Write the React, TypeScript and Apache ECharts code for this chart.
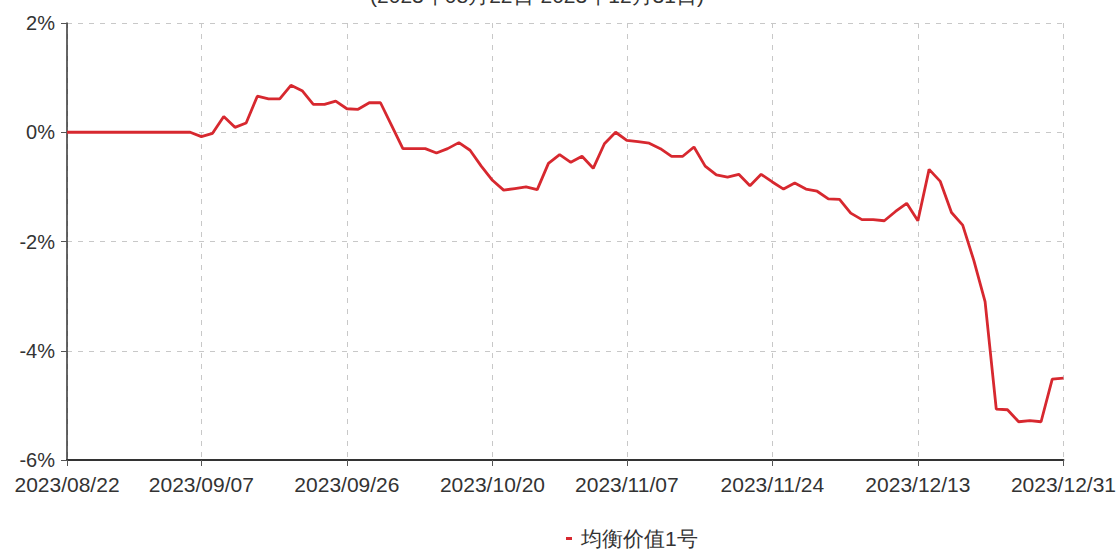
import React, { useEffect, useRef } from "react";
import * as echarts from "echarts";

const titleText = "(2023年08月22日-2023年12月31日)";
const seriesName = "均衡价值1号";

const dates = [
  "2023/08/22", "2023/08/23", "2023/08/24", "2023/08/25", "2023/08/28", "2023/08/29", "2023/08/30", "2023/08/31",
  "2023/09/01", "2023/09/04", "2023/09/05", "2023/09/06", "2023/09/07",
  "2023/09/08", "2023/09/11", "2023/09/12", "2023/09/13", "2023/09/14", "2023/09/15", "2023/09/18", "2023/09/19",
  "2023/09/20", "2023/09/21", "2023/09/22", "2023/09/25", "2023/09/26",
  "2023/09/27", "2023/09/28", "2023/09/30", "2023/10/09", "2023/10/10", "2023/10/11", "2023/10/12", "2023/10/13",
  "2023/10/16", "2023/10/17", "2023/10/18", "2023/10/19", "2023/10/20",
  "2023/10/23", "2023/10/24", "2023/10/25", "2023/10/26", "2023/10/27", "2023/10/30", "2023/10/31", "2023/11/01",
  "2023/11/02", "2023/11/03", "2023/11/06", "2023/11/07",
  "2023/11/08", "2023/11/09", "2023/11/10", "2023/11/13", "2023/11/14", "2023/11/15", "2023/11/16", "2023/11/17",
  "2023/11/20", "2023/11/21", "2023/11/22", "2023/11/23", "2023/11/24",
  "2023/11/27", "2023/11/28", "2023/11/29", "2023/11/30", "2023/12/01", "2023/12/04", "2023/12/05", "2023/12/06",
  "2023/12/07", "2023/12/08", "2023/12/11", "2023/12/12", "2023/12/13",
  "2023/12/14", "2023/12/15", "2023/12/18", "2023/12/19", "2023/12/20", "2023/12/21", "2023/12/22", "2023/12/25",
  "2023/12/26", "2023/12/27", "2023/12/28", "2023/12/29", "2023/12/31",
];

const values = [
  0, 0, 0, 0, 0, 0, 0, 0, 0, 0, 0, 0, -0.08,
  -0.02, 0.29, 0.09, 0.17, 0.66, 0.61, 0.61, 0.86, 0.76, 0.51, 0.51, 0.57, 0.43,
  0.42, 0.54, 0.54, 0.12, -0.3, -0.3, -0.3, -0.38, -0.3, -0.19, -0.33, -0.62, -0.88,
  -1.06, -1.03, -1.0, -1.05, -0.57, -0.41, -0.55, -0.44, -0.66, -0.21, 0.0, -0.15,
  -0.17, -0.2, -0.3, -0.44, -0.44, -0.27, -0.62, -0.78, -0.82, -0.77, -0.98, -0.77, -0.91,
  -1.04, -0.93, -1.04, -1.08, -1.22, -1.23, -1.48, -1.6, -1.6, -1.62, -1.45, -1.3, -1.62,
  -0.68, -0.9, -1.47, -1.7, -2.35, -3.1, -5.07, -5.08, -5.3, -5.28, -5.3, -4.52, -4.5,
];

const labelDates = [
  "2023/08/22", "2023/09/07", "2023/09/26", "2023/10/20",
  "2023/11/07", "2023/11/24", "2023/12/13", "2023/12/31",
];

const yMin = -6;
const yMax = 2;
const yStep = 2;

export default function App() {
  const ref = useRef<HTMLDivElement>(null);
  useEffect(() => {
    if (!ref.current) return;
    const chart = echarts.init(ref.current, undefined, { renderer: "svg" });
    const showAt = (_i: number, v: string) => labelDates.includes(v);
    const font = "Liberation Sans, Arial, sans-serif";
    chart.setOption({
      animation: false,
      backgroundColor: "#ffffff",
      graphic: [
        {
          type: "text",
          x: 537,
          y: -5,
          style: {
            text: titleText,
            fontSize: 21,
            fontFamily: font,
            fill: "#333",
            textAlign: "center",
            textVerticalAlign: "middle",
          },
        },
      ],
      grid: { left: 67, right: 54, top: 23, bottom: 89, containLabel: false },
      legend: {
        show: true,
        left: 561,
        top: 523,
        icon: "rect",
        itemWidth: 6,
        itemHeight: 3,
        itemGap: 10,
        textStyle: { fontSize: 21, color: "#333", fontFamily: font, padding: [0, 0, 0, 4] },
        data: [seriesName],
      },
      xAxis: {
        type: "category",
        data: dates,
        boundaryGap: false,
        axisLine: { show: true, onZero: false, lineStyle: { color: "#333", width: 2 } },
        axisTick: { show: true, interval: showAt, length: 6, lineStyle: { color: "#555", width: 1 } },
        axisLabel: {
          interval: showAt,
          fontSize: 21,
          color: "#333",
          fontFamily: font,
          margin: 14,
          showMaxLabel: true,
        },
        splitLine: {
          show: true,
          interval: showAt,
          lineStyle: { color: "#c8c8c8", type: [5, 6], width: 1 },
        },
      },
      yAxis: {
        type: "value",
        min: yMin,
        max: yMax,
        interval: yStep,
        axisLine: { show: true, lineStyle: { color: "#333", width: 1.5 } },
        axisTick: { show: true, length: 6, lineStyle: { color: "#555" } },
        axisLabel: {
          formatter: (v: number) => `${v}%`,
          fontSize: 20,
          color: "#333",
          fontFamily: font,
          margin: 12,
        },
        splitLine: { show: true, lineStyle: { color: "#c8c8c8", type: [5, 6], width: 1 } },
      },
      series: [
        {
          name: seriesName,
          type: "line",
          data: values,
          symbol: "none",
          lineStyle: { color: "#d7282f", width: 2.8 },
          itemStyle: { color: "#d7282f" },
        },
      ],
    });
    return () => chart.dispose();
  }, []);
  return (
    <div
      ref={ref}
      style={{ position: "fixed", left: 0, top: 0, width: 1119, height: 549 }}
    />
  );
}
